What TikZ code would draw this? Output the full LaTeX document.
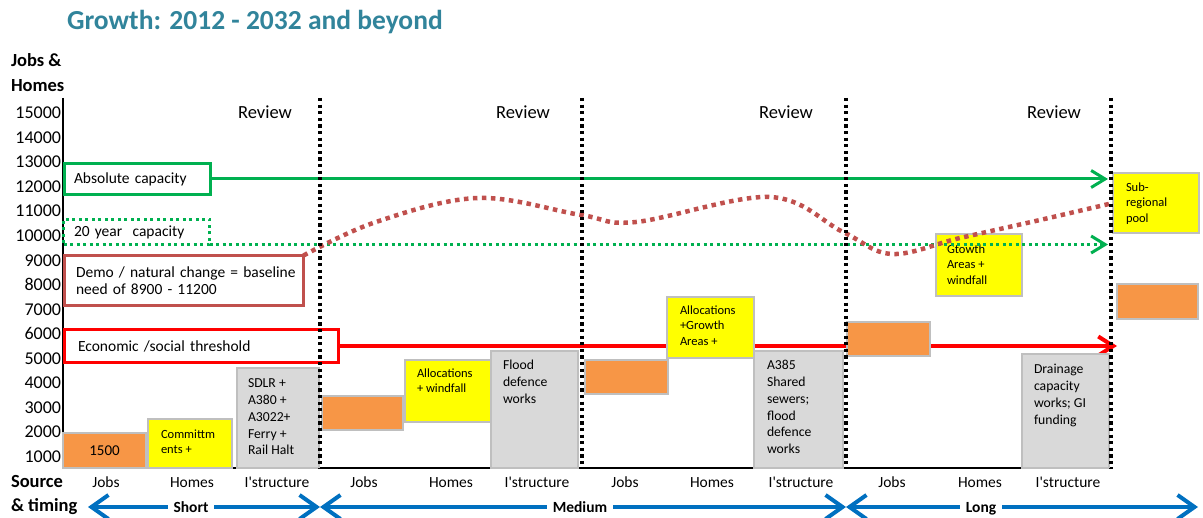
\documentclass[tikz,border=0pt]{standalone}
\usepackage{fontspec}
\setmainfont{Carlito}
\usetikzlibrary{calc,positioning,arrows.meta}

\definecolor{titleteal}{RGB}{49,132,155}
\definecolor{capgreen}{RGB}{0,176,80}
\definecolor{demobrown}{RGB}{192,80,77}
\definecolor{jobsorange}{RGB}{247,150,70}
\definecolor{homesyellow}{RGB}{255,255,0}
\definecolor{infragray}{RGB}{217,217,217}
\definecolor{baredge}{RGB}{191,191,191}
\definecolor{timeblue}{RGB}{0,112,192}

\newcommand{\fsz}[2]{\fontsize{#1}{#2}\selectfont}

\begin{document}
\begin{tikzpicture}[x=1pt,y=-1pt,
    every node/.style={font=\fsz{15.5}{19},inner sep=0pt,outer sep=0pt},
    heading/.style={anchor=base west,font=\fsz{18.5}{22}\bfseries},
    ticklabel/.style={anchor=east,font=\fsz{18}{22}},
    collabel/.style={anchor=base},
    review/.style={anchor=base,font=\fsz{18.5}{22}},
    bar/.style={draw=baredge,line width=1.2pt,anchor=north west},
    jobsbar/.style={bar,fill=jobsorange},
    homesbar/.style={bar,fill=homesyellow},
    infrabar/.style={bar,fill=infragray},
    homestext/.style={anchor=north west,align=left,font=\fsz{12.5}{15.5}},
    infratext/.style={anchor=north west,align=left,font=\fsz{13.7}{16.7}},
    capbox/.style={draw,line width=3pt,anchor=north west,align=left},
    dotline/.style={line width=3pt,dash pattern=on 3pt off 3.5pt},
    period/.style={line width=4pt,timeblue,arrows={Straight Barb[length=17pt,width=24pt]-Straight Barb[length=17pt,width=24pt]}},
    periodlabel/.style={anchor=base,fill=white,inner xsep=6pt,inner ysep=3pt,font=\fsz{15.5}{19}\bfseries},
    divider/.style={line width=3.3pt,dash pattern=on 3.3pt off 3.3pt},
  ]
  \useasboundingbox (0,0) rectangle (1203,518);

  \node[anchor=base west,font=\fsz{27.5}{32}\bfseries,text=titleteal] (title) at (67,30) {Growth: 2012 - 2032 and beyond};

  % axes and scale
  \draw[line width=2pt] (63,98) coordinate (ytop) -- (63,468) coordinate (origin) -- (1113,468) coordinate (xend);
  \foreach \n in {1,...,15}
    \node[ticklabel] (tick\n) at (61,{456.7-(\n-1)*24.55}) {\n000};
  \node[heading] (axisa) at (11,67) {Jobs \&};
  \node[heading] (axisb) at (11,92) {Homes};

  % threshold
  \node[capbox,draw=red,minimum height=33pt,text width=247pt,inner xsep=13.5pt] (thr) at (64.5,329.5) {Economic /social threshold};
  \coordinate (thrend) at (1117,0);
  \draw[red,line width=4pt,-{Straight Barb[length=15pt,width=19pt]}] (thr.east) -- (thr.east -| thrend);

  % jobs
  \node[jobsbar,minimum width=83pt,minimum height=35pt,font=\fsz{15}{18}] (js) at (63,433) {1500};
  \node[jobsbar,minimum width=81pt,minimum height=34pt] (jm) at (322,396) {};
  \node[jobsbar,minimum width=83pt,minimum height=34pt] (jm2) at (585,360) {};
  \node[jobsbar,minimum width=83pt,minimum height=34pt] (jl) at (847,322) {};
  \node[jobsbar,minimum width=81pt,minimum height=35pt] (jx) at (1117,284) {};

  % homes
  \node[homesbar,minimum width=84pt,minimum height=49pt] (hs) at (148,419) {};
  \node[homesbar,minimum width=86pt,minimum height=62pt] (hm) at (405,360) {};
  \node[homesbar,minimum width=87pt,minimum height=61pt] (hm2) at (667,297) {};
  \node[homesbar,minimum width=86pt,minimum height=62pt] (hl) at (936,234) {};
  \node[homesbar,minimum width=86pt,minimum height=60pt] (pool) at (1113,173) {};
  \node[homestext] (hstext) at ($(hs.north west)+(13,8.2)$) {\strut Committm\\ents +};
  \node[homestext] (hmtext) at ($(hm.north west)+(12,6.2)$) {\strut Allocations\\+ windfall};
  \node[homestext] (hm2text) at ($(hm2.north west)+(13,6.2)$) {\strut Allocations\\+Growth\\Areas +};
  \node[homestext] (hltext) at ($(hl.north west)+(11,8.2)$) {\strut Gtowth\\Areas +\\windfall};
  \node[homestext] (pooltext) at ($(pool.north west)+(13,7.2)$) {\strut Sub-\\regional\\pool};

  % infrastructure
  \node[infrabar,minimum width=82pt,minimum height=100pt] (is) at (237,368) {};
  \node[infrabar,minimum width=87pt,minimum height=117pt] (im) at (491,351) {};
  \node[infrabar,minimum width=89pt,minimum height=117pt] (im2) at (754,351) {};
  \node[infrabar,minimum width=87pt,minimum height=114pt] (il) at (1022,354) {};
  \node[infratext] (istext) at ($(is.north west)+(11,8.3)$) {\strut SDLR +\\A380 +\\A3022+\\Ferry +\\Rail Halt};
  \node[infratext] (imtext) at ($(im.north west)+(12,7.3)$) {\strut Flood\\defence\\works};
  \node[infratext] (im2text) at ($(im2.north west)+(13,7.3)$) {\strut A385\\Shared\\sewers;\\flood\\defence\\works};
  \node[infratext] (iltext) at ($(il.north west)+(12,8.3)$) {\strut Drainage\\capacity\\works; GI\\funding};

  % capacity and need
  \coordinate (capend) at (1108,0);
  \node[capbox,draw=capgreen,minimum height=31pt,text width=127pt,inner xsep=9.5pt] (abs) at (64.5,163.5) {Absolute capacity};
  \node[capbox,draw=capgreen,dotline,minimum height=25pt,text width=125pt,inner xsep=10.5pt] (yr20) at (63.5,219.5) {20 year\ \ capacity};
  \node[capbox,draw=demobrown,minimum height=50pt,text width=216pt,inner xsep=11.5pt,font=\fsz{15.5}{17}] (demo) at (64.5,255.5) {\mbox{Demo / natural change = baseline}\\\mbox{need of 8900 - 11200}};
  \draw[capgreen,line width=3pt,-{Straight Barb[length=14pt,width=17pt]}] (abs.east) -- (abs.east -| capend);
  \draw[capgreen,dotline,-{Straight Barb[length=14pt,width=17pt]}] (yr20.south east) -- (yr20.south east -| capend);
  \draw[demobrown,line width=4.5pt,dash pattern=on 4.5pt off 4.5pt] plot[smooth,tension=0.6] coordinates {(demo.north east) (376,222) (478,198) (581,215) (636,222) (770,197) (843,232) (892,254) (960,238) (1040,220) (pool.west)};

  % review points
  \foreach \x in {320,582,846,1111}
    \draw[divider] (\x,98) -- (\x,468);
  \foreach \x/\n in {265/1,523/2,786/3,1054/4}
    \node[review] (review\n) at (\x,119) {Review};

  % source and timing
  \foreach \x/\t [count=\i] in {106/Jobs,192/Homes,277/I\textquotesingle structure,364/Jobs,451/Homes,537/I\textquotesingle structure,625/Jobs,712/Homes,801/I\textquotesingle structure,892/Jobs,980/Homes,1068/I\textquotesingle structure}
    \node[collabel] (col\i) at (\x,488) {\t};
  \node[heading] (srca) at (11,488) {Source};
  \node[heading] (srcb) at (11,512) {\& timing};
  \coordinate (p0) at (88,507);
  \coordinate (p1) at (320,507);
  \coordinate (p2) at (846,507);
  \coordinate (p3) at (1198,507);
  \draw[period] (p0) -- (p1);
  \draw[period] (p1) -- (p2);
  \draw[period] (p2) -- (p3);
  \node[periodlabel] (short) at (191,512.5) {Short};
  \node[periodlabel] (medium) at (580,512.5) {Medium};
  \node[periodlabel] (long) at (981,512.5) {Long};
\end{tikzpicture}
\end{document}
